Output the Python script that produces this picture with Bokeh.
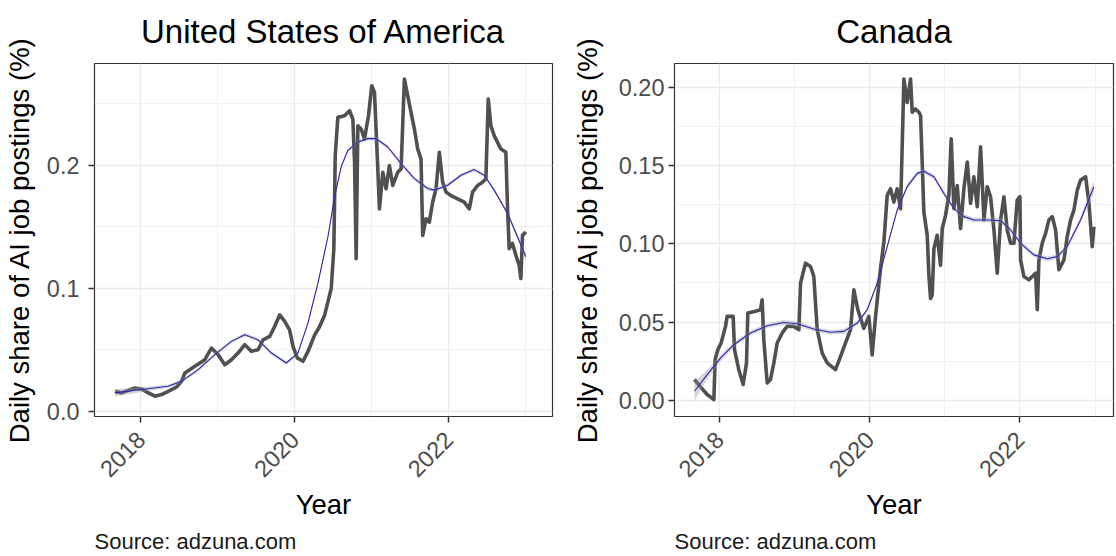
import math

from bokeh.embed import file_html
from bokeh.layouts import row
from bokeh.models import FixedTicker, NumeralTickFormatter, Range1d, Title
from bokeh.plotting import figure
from bokeh.resources import INLINE

FONT = "Liberation Sans"

# ---- United States: daily share of AI job postings (%) ----
us_year = [
    2017.663, 2017.749, 2017.836, 2017.922, 2018.009, 2018.095, 2018.182, 2018.268, 2018.354, 2018.463,
    2018.527, 2018.571, 2018.700, 2018.830, 2018.916, 2019.003, 2019.089, 2019.176, 2019.262, 2019.349,
    2019.435, 2019.522, 2019.587, 2019.673, 2019.738, 2019.803, 2019.868, 2019.932, 2019.976, 2020.032,
    2020.105, 2020.170, 2020.257, 2020.322, 2020.387, 2020.473, 2020.507, 2020.525, 2020.559, 2020.646,
    2020.711, 2020.754, 2020.776, 2020.797, 2020.819, 2020.862, 2020.905, 2020.957, 2021.000, 2021.035,
    2021.069, 2021.100, 2021.143, 2021.186, 2021.229, 2021.273, 2021.338, 2021.381, 2021.424, 2021.467,
    2021.510, 2021.554, 2021.597, 2021.640, 2021.662, 2021.705, 2021.748, 2021.791, 2021.835, 2021.878,
    2021.921, 2021.965, 2022.029, 2022.116, 2022.202, 2022.267, 2022.310, 2022.375, 2022.440, 2022.483,
    2022.514, 2022.548, 2022.591, 2022.678, 2022.743, 2022.765, 2022.786, 2022.829, 2022.873, 2022.916,
    2022.938, 2022.959, 2023.002,
]
us_share = [
    0.0162, 0.0149, 0.0170, 0.0189, 0.0181, 0.0149, 0.0122, 0.0135, 0.0162, 0.0197,
    0.0243, 0.0311, 0.0365, 0.0419, 0.0514, 0.0460, 0.0378, 0.0419, 0.0473, 0.0541,
    0.0487, 0.0500, 0.0581, 0.0608, 0.0689, 0.0784, 0.0730, 0.0662, 0.0527, 0.0433,
    0.0406, 0.0484, 0.0619, 0.0689, 0.0781, 0.0998, 0.1322, 0.2079, 0.2390, 0.2403,
    0.2444, 0.2376, 0.2025, 0.1241, 0.2322, 0.2295, 0.2214, 0.2403, 0.2647, 0.2593,
    0.2106, 0.1646, 0.1944, 0.1809, 0.1998, 0.1836, 0.1944, 0.1971, 0.2701, 0.2566,
    0.2430, 0.2295, 0.2133, 0.2052, 0.1430, 0.1565, 0.1538, 0.1700, 0.1809, 0.2106,
    0.1863, 0.1782, 0.1754, 0.1727, 0.1700, 0.1646, 0.1782, 0.1836, 0.1863, 0.1890,
    0.2538, 0.2322, 0.2241, 0.2133, 0.2106, 0.1646, 0.1322, 0.1365, 0.1268, 0.1187,
    0.1079, 0.1430, 0.1457,
]
# smoothed trend and its standard error
us_fit_year = [
    2017.663, 2018.009, 2018.354, 2018.527, 2018.744, 2018.960, 2019.176, 2019.349, 2019.522, 2019.695,
    2019.889, 2020.040, 2020.170, 2020.300, 2020.430, 2020.516, 2020.602, 2020.689, 2020.819, 2020.948,
    2021.056, 2021.208, 2021.381, 2021.554, 2021.727, 2021.813, 2021.986, 2022.159, 2022.332, 2022.462,
    2022.591, 2022.765, 2022.894, 2023.002,
]
us_fit = [
    0.0149, 0.0176, 0.0203, 0.0243, 0.0338, 0.0460, 0.0568, 0.0622, 0.0581, 0.0473,
    0.0392, 0.0473, 0.0716, 0.1041, 0.1419, 0.1744, 0.1987, 0.2122, 0.2190, 0.2217,
    0.2217, 0.2149, 0.2014, 0.1892, 0.1811, 0.1798, 0.1838, 0.1919, 0.1965, 0.1919,
    0.1798, 0.1608, 0.1419, 0.1257,
]
us_fit_se = [
    0.003, 0.002, 0.0015, 0.0015, 0.0015, 0.0015, 0.0015, 0.0015, 0.0015, 0.0015,
    0.0015, 0.0015, 0.0015, 0.0015, 0.0015, 0.0015, 0.0015, 0.0015, 0.0015, 0.0015,
    0.0015, 0.0015, 0.0015, 0.0015, 0.0015, 0.0015, 0.0015, 0.0015, 0.0015, 0.0015,
    0.0015, 0.0015, 0.002, 0.003,
]

# ---- Canada ----
ca_year = [
    2017.667, 2017.747, 2017.836, 2017.925, 2017.942, 2017.978, 2018.022, 2018.080, 2018.102, 2018.182,
    2018.200, 2018.257, 2018.315, 2018.360, 2018.377, 2018.466, 2018.546, 2018.568, 2018.590, 2018.635,
    2018.679, 2018.724, 2018.768, 2018.835, 2018.901, 2018.990, 2019.057, 2019.079, 2019.145, 2019.212,
    2019.256, 2019.301, 2019.367, 2019.434, 2019.545, 2019.612, 2019.678, 2019.745, 2019.789, 2019.842,
    2019.922, 2019.989, 2020.033, 2020.078, 2020.144, 2020.189, 2020.233, 2020.277, 2020.322, 2020.366,
    2020.411, 2020.433, 2020.455, 2020.499, 2020.544, 2020.566, 2020.610, 2020.655, 2020.677, 2020.699,
    2020.721, 2020.766, 2020.788, 2020.810, 2020.832, 2020.855, 2020.899, 2020.943, 2020.966, 2021.010,
    2021.054, 2021.085, 2021.121, 2021.165, 2021.210, 2021.254, 2021.299, 2021.343, 2021.387, 2021.432,
    2021.476, 2021.521, 2021.565, 2021.609, 2021.654, 2021.698, 2021.743, 2021.787, 2021.831, 2021.876,
    2021.920, 2021.964, 2022.000, 2022.009, 2022.053, 2022.120, 2022.164, 2022.209, 2022.231, 2022.253,
    2022.297, 2022.342, 2022.386, 2022.431, 2022.475, 2022.519, 2022.586, 2022.630, 2022.675, 2022.719,
    2022.764, 2022.808, 2022.875, 2022.919, 2022.963, 2022.985,
]
ca_share = [
    0.0134, 0.0087, 0.0038, 0.0006, 0.0261, 0.0324, 0.0367, 0.0473, 0.0537, 0.0537,
    0.0324, 0.0197, 0.0102, 0.0240, 0.0558, 0.0568, 0.0579, 0.0643, 0.0388, 0.0112,
    0.0134, 0.0240, 0.0367, 0.0431, 0.0473, 0.0473, 0.0452, 0.0749, 0.0876, 0.0855,
    0.0791, 0.0452, 0.0303, 0.0240, 0.0197, 0.0282, 0.0367, 0.0452, 0.0706, 0.0579,
    0.0460, 0.0537, 0.0291, 0.0537, 0.0842, 0.1012, 0.1309, 0.1351, 0.1266, 0.1351,
    0.1224, 0.1627, 0.2051, 0.1902, 0.2051, 0.1839, 0.1860, 0.1839, 0.1818, 0.1521,
    0.1203, 0.1054, 0.0800, 0.0651, 0.0672, 0.0969, 0.1054, 0.0863, 0.1097, 0.1181,
    0.1309, 0.1669, 0.1224, 0.1372, 0.1097, 0.1351, 0.1521, 0.1258, 0.1427, 0.1236,
    0.1618, 0.1152, 0.1364, 0.1300, 0.1088, 0.0812, 0.1152, 0.1300, 0.1088, 0.1003,
    0.1003, 0.1279, 0.1300, 0.0897, 0.0791, 0.0770, 0.0791, 0.0812, 0.0579, 0.0897,
    0.1003, 0.1067, 0.1152, 0.1173, 0.1088, 0.0834, 0.0897, 0.1046, 0.1152, 0.1215,
    0.1343, 0.1406, 0.1427, 0.1258, 0.0982, 0.1109,
]
ca_fit_year = [
    2017.667, 2017.836, 2018.013, 2018.191, 2018.413, 2018.635, 2018.857, 2019.034, 2019.256, 2019.478,
    2019.656, 2019.834, 2019.967, 2020.100, 2020.233, 2020.366, 2020.499, 2020.633, 2020.721, 2020.855,
    2020.988, 2021.121, 2021.254, 2021.387, 2021.565, 2021.743, 2021.876, 2022.009, 2022.186, 2022.364,
    2022.497, 2022.630, 2022.808, 2022.985,
]
ca_fit = [
    0.0059, 0.0165, 0.0271, 0.0356, 0.0431, 0.0477, 0.0498, 0.0490, 0.0456, 0.0435,
    0.0441, 0.0494, 0.0579, 0.0749, 0.0982, 0.1215, 0.1364, 0.1449, 0.1463, 0.1427,
    0.1321, 0.1226, 0.1173, 0.1152, 0.1152, 0.1147, 0.1088, 0.1003, 0.0929, 0.0904,
    0.0918, 0.0982, 0.1152, 0.1364,
]
ca_fit_se = [
    0.006, 0.003, 0.002, 0.0015, 0.0015, 0.0015, 0.0015, 0.0015, 0.0015, 0.0015,
    0.0015, 0.0015, 0.0015, 0.0015, 0.0015, 0.0015, 0.0015, 0.0015, 0.0015, 0.0015,
    0.0015, 0.0015, 0.0015, 0.0015, 0.0015, 0.0015, 0.0015, 0.0015, 0.0015, 0.0015,
    0.0015, 0.0015, 0.002, 0.004,
]

year_ticks = [2018, 2020, 2022]
year_minor = [2017, 2019, 2021, 2023]
us_ticks = [0.0, 0.1, 0.2]
us_minor = [0.05, 0.15, 0.25]
ca_ticks = [0.0, 0.05, 0.10, 0.15, 0.20]
ca_minor = [0.025, 0.075, 0.125, 0.175]


def panel(title, years, share, fit_years, fit, fit_se, x_range, y_range,
          y_ticks, y_minor, y_format, left, right, label_gap, title_gap):
    p = figure(width=558, height=556, output_backend="svg", toolbar_location=None,
               x_range=Range1d(*x_range), y_range=Range1d(*y_range),
               min_border_left=left, min_border_right=right,
               min_border_top=63, min_border_bottom=139)
    p.background_fill_color = "white"
    p.border_fill_color = "white"
    p.outline_line_color = "#333333"
    p.outline_line_width = 1.2
    p.outline_line_alpha = 1.0

    p.title.text = title
    p.title.align = "center"
    p.title.vertical_align = "top"
    p.title.text_font = FONT
    p.title.text_font_size = "33px"
    p.title.text_font_style = "normal"
    p.title.text_color = "black"
    p.title.text_line_height = 0.72
    p.title.standoff = 24

    p.xaxis.ticker = FixedTicker(ticks=year_ticks, minor_ticks=year_minor)
    p.xaxis.formatter = NumeralTickFormatter(format="0")
    p.yaxis.ticker = FixedTicker(ticks=y_ticks, minor_ticks=y_minor)
    p.yaxis.formatter = NumeralTickFormatter(format=y_format)

    p.xaxis.axis_label = "Year"
    p.yaxis.axis_label = "Daily share of AI job postings (%)"
    p.xaxis.major_label_orientation = math.pi / 4
    for ax in (p.xaxis[0], p.yaxis[0]):
        ax.axis_line_color = None
        ax.major_tick_line_color = "#333333"
        ax.major_tick_line_width = 1.5
        ax.major_tick_in = 0
        ax.major_tick_out = 6
        ax.minor_tick_line_color = None
        ax.major_label_text_font = FONT
        ax.major_label_text_font_size = "23.5px"
        ax.major_label_text_color = "#4d4d4d"
        ax.axis_label_text_font = FONT
        ax.axis_label_text_font_size = "27.5px"
        ax.axis_label_text_font_style = "normal"
        ax.axis_label_text_color = "black"
    p.xaxis.major_label_standoff = 13
    p.xaxis.axis_label_standoff = 2
    p.yaxis.major_label_standoff = label_gap
    p.yaxis.axis_label_standoff = title_gap

    for g in (p.xgrid[0], p.ygrid[0]):
        g.grid_line_color = "#ebebeb"
        g.grid_line_width = 1.3
        g.minor_grid_line_color = "#ebebeb"
        g.minor_grid_line_width = 0.7

    lower = [f - s for f, s in zip(fit, fit_se)]
    upper = [f + s for f, s in zip(fit, fit_se)]
    p.line(years, share, line_color="#505050", line_width=3.6, line_join="round")
    p.varea(x=fit_years, y1=lower, y2=upper, fill_color="#999999", fill_alpha=0.4)
    p.line(fit_years, fit, line_color="#2828b4", line_width=1.1)

    p.add_layout(Title(text="Source: adzuna.com", align="left", text_font=FONT,
                       text_font_size="22px", text_font_style="normal",
                       text_color="#1a1a1a", text_line_height=0.37, standoff=6), "below")
    return p


p_us = panel("United States of America", us_year, us_share, us_fit_year, us_fit, us_fit_se,
             (2017.396, 2023.349), (-0.0043, 0.2828), us_ticks, us_minor, "0.0", 93, 6, 9, 9)
p_ca = panel("Canada", ca_year, ca_share, ca_fit_year, ca_fit, ca_fit_se,
             (2017.401, 2023.246), (-0.0102, 0.2150), ca_ticks, ca_minor, "0.00", 116, 3, 4, 13)

layout = row(p_us, p_ca, spacing=0)
open("out.html", "w").write(file_html(layout, INLINE))
